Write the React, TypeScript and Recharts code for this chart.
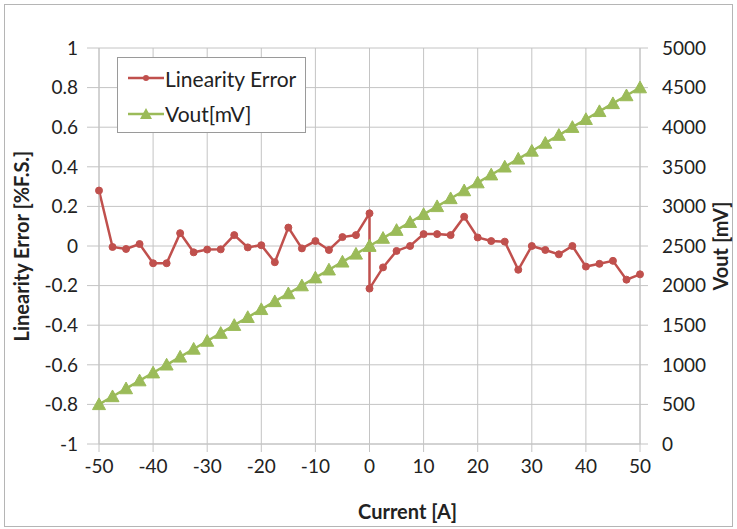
import {
  ComposedChart,
  Line,
  XAxis,
  YAxis,
  CartesianGrid,
} from "recharts";

// Current [A] — the 0 A point appears twice (the error jumps there)
const current = [
  -50, -47.5, -45, -42.5, -40, -37.5, -35, -32.5, -30, -27.5, -25, -22.5, -20,
  -17.5, -15, -12.5, -10, -7.5, -5, -2.5, 0, 0, 2.5, 5, 7.5, 10, 12.5, 15, 17.5,
  20, 22.5, 25, 27.5, 30, 32.5, 35, 37.5, 40, 42.5, 45, 47.5, 50,
];

// Linearity Error [%F.S.]
const linearityError = [
  0.28, -0.005, -0.015, 0.01, -0.087, -0.087, 0.065, -0.032, -0.018, -0.017,
  0.055, -0.007, 0.004, -0.082, 0.093, -0.012, 0.025, -0.02, 0.045, 0.055,
  0.165, -0.215, -0.108, -0.025, 0.0, 0.06, 0.06, 0.055, 0.148, 0.043, 0.025,
  0.022, -0.12, 0.0, -0.02, -0.042, 0.0, -0.104, -0.09, -0.075, -0.17, -0.143,
];

// Vout [mV]
const vout = [
  500, 600, 700, 800, 900, 1000, 1100, 1200, 1300, 1400, 1500, 1600, 1700,
  1800, 1900, 2000, 2100, 2200, 2300, 2400, 2500, 2500, 2600, 2700, 2800, 2900,
  3000, 3100, 3200, 3300, 3400, 3500, 3600, 3700, 3800, 3900, 4000, 4100, 4200,
  4300, 4400, 4500,
];

const xTicks = [-50, -40, -30, -20, -10, 0, 10, 20, 30, 40, 50];
const leftTicks = [-1, -0.8, -0.6, -0.4, -0.2, 0, 0.2, 0.4, 0.6, 0.8, 1];
const rightTicks = [0, 500, 1000, 1500, 2000, 2500, 3000, 3500, 4000, 4500, 5000];

const RED = "#c0504d";
const GREEN = "#9bbb59";
const GRID = "#c4c4c4";
const FONT = "Lato, 'Open Sans', sans-serif";

const data = current.map((c, i) => ({
  current: c,
  err: linearityError[i],
  vout: vout[i],
}));

const Triangle = (props: any) => {
  const { cx, cy } = props;
  if (cx == null || cy == null) return null;
  const s = 6.5;
  return (
    <polygon
      points={`${cx},${cy - s} ${cx - s},${cy + s * 0.8} ${cx + s},${cy + s * 0.8}`}
      fill={GREEN}
      stroke={GREEN}
    />
  );
};

function LegendBox() {
  return (
    <div
      style={{
        position: "absolute",
        left: 117,
        top: 57,
        width: 189,
        height: 76,
        border: "1px solid #9a9a9a",
        background: "#fff",
        fontFamily: FONT,
        fontSize: 21,
        color: "#222",
        boxSizing: "border-box",
        whiteSpace: "nowrap",
      }}
    >
      <div style={{ display: "flex", alignItems: "center", height: 36, paddingLeft: 10, paddingTop: 2 }}>
        <svg width={36} height={12} style={{ flexShrink: 0 }}>
          <line x1={0} y1={6} x2={36} y2={6} stroke={RED} strokeWidth={2.5} />
          <circle cx={18} cy={6} r={3} fill={RED} />
        </svg>
        <span style={{ marginLeft: 1 }}>Linearity Error</span>
      </div>
      <div style={{ display: "flex", alignItems: "center", height: 35, paddingLeft: 10 }}>
        <svg width={36} height={14} style={{ flexShrink: 0 }}>
          <line x1={0} y1={7} x2={36} y2={7} stroke={GREEN} strokeWidth={2.5} />
          <polygon points="18,1 12,12 24,12" fill={GREEN} />
        </svg>
        <span style={{ marginLeft: 1 }}>Vout[mV]</span>
      </div>
    </div>
  );
}

export default function App() {
  const tickStyle = { fill: "#222", fontSize: 19, fontFamily: FONT };
  const titleStyle = { fill: "#222", fontSize: 20, fontWeight: 700, fontFamily: FONT };
  return (
    <div
      style={{
        position: "absolute",
        left: 0,
        top: 0,
        width: 737,
        height: 529,
        background: "#fff",
      }}
    >
      {/* outer frame of the chart */}
      <div
        style={{
          position: "absolute",
          left: 4,
          top: 4,
          width: 729,
          height: 523,
          border: "1px solid #b5b5b5",
          boxSizing: "border-box",
        }}
      />
      <div style={{ position: "absolute", left: 0, top: 0 }}>
        <ComposedChart
          width={737}
          height={529}
          data={data}
          margin={{ top: 48, right: 0, bottom: 0, left: 0 }}
        >
          <CartesianGrid yAxisId="left" stroke={GRID} strokeWidth={1} />
          <XAxis
            dataKey="current"
            type="number"
            domain={[-50, 50]}
            ticks={xTicks}
            height={85}
            tickSize={8}
            tickMargin={8}
            stroke={GRID}
            tick={tickStyle}
            label={{
              value: "Current [A]",
              position: "insideBottom",
              offset: 10,
              dx: 38,
              style: titleStyle,
            }}
          />
          <YAxis
            yAxisId="left"
            domain={[-1, 1]}
            ticks={leftTicks}
            width={99}
            tickSize={12}
            tickMargin={9}
            stroke={GRID}
            tick={tickStyle}
            interval={0}
            label={{
              value: "Linearity Error [%F.S.]",
              angle: -90,
              position: "insideLeft",
              offset: 22,
              style: { ...titleStyle, textAnchor: "middle" },
            }}
          />
          <YAxis
            yAxisId="right"
            orientation="right"
            domain={[0, 5000]}
            ticks={rightTicks}
            width={97}
            tickSize={8}
            tickMargin={14}
            stroke={GRID}
            tick={tickStyle}
            interval={0}
            label={{
              value: "Vout [mV]",
              angle: -90,
              position: "insideRight",
              offset: 16,
              style: { ...titleStyle, textAnchor: "middle" },
            }}
          />
          <Line
            yAxisId="left"
            dataKey="err"
            stroke={RED}
            strokeWidth={2.5}
            dot={{ r: 3.5, fill: RED, stroke: RED, strokeWidth: 1 }}
            activeDot={false}
            isAnimationActive={false}
          />
          <Line
            yAxisId="right"
            dataKey="vout"
            stroke={GREEN}
            strokeWidth={2.5}
            dot={<Triangle />}
            activeDot={false}
            isAnimationActive={false}
          />
        </ComposedChart>
      </div>
      <LegendBox />
    </div>
  );
}
